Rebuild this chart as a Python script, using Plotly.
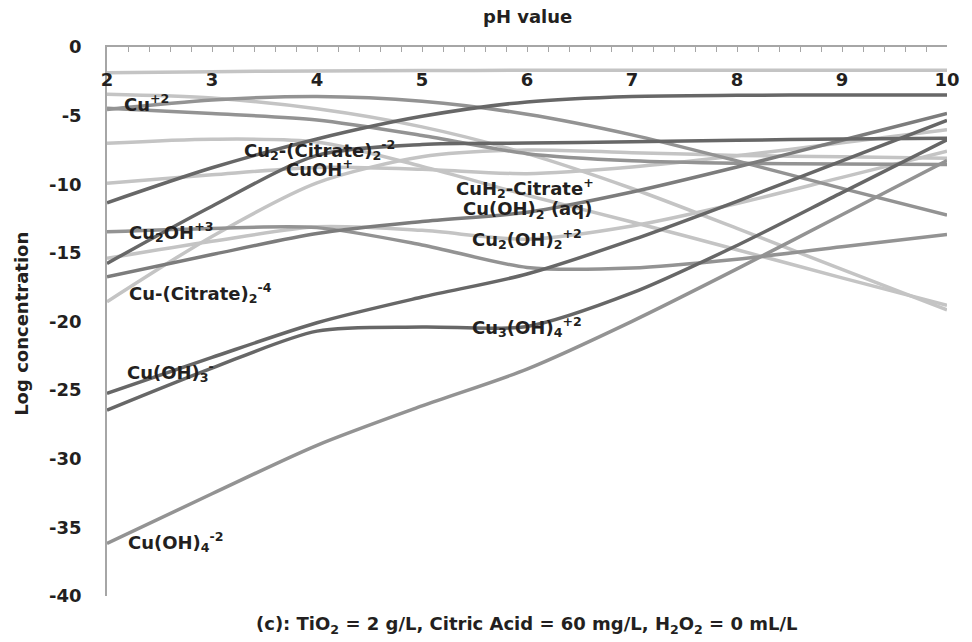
import plotly.graph_objects as go

# pH grid (x) and log-concentration curves (y) for each species
ph = [2, 3, 4, 5, 6, 7, 8, 9, 10]

unlabeled_top = [-1.87, -1.80, -1.74, -1.71, -1.70, -1.70, -1.70, -1.70, -1.70]
citrate_3 = [-11.35, -8.8, -6.7, -5.05, -4.0, -3.6, -3.52, -3.5, -3.5]
h2_citrate = [-4.55, -3.87, -3.6, -3.95, -4.9, -6.4, -8.3, -10.3, -12.25]
h3_citrate = [-3.45, -3.72, -4.5, -5.82, -7.77, -10.31, -13.22, -16.21, -19.15]
cuh2_citrate = [-7.02, -6.72, -6.92, -8.7, -10.8, -12.75, -14.77, -16.82, -18.82]
cu_2 = [-4.47, -4.85, -5.32, -6.45, -7.77, -8.29, -8.47, -8.52, -8.57]
cuoh = [-9.93, -9.31, -8.78, -8.91, -9.23, -8.75, -7.93, -6.98, -6.03]
cu2oh_3 = [-13.46, -13.22, -13.16, -14.42, -16.06, -16.1, -15.46, -14.56, -13.66]
cu2_oh2 = [-15.4, -14.16, -13.1, -13.36, -14.0, -13.04, -11.4, -9.5, -7.6]
cu2_cit2 = [-15.77, -11.6, -7.9, -7.1, -7.0, -6.9, -6.8, -6.7, -6.65]
cu_cit2 = [-18.56, -13.8, -9.9, -8.0, -7.5, -7.7, -7.9, -8.0, -8.1]
cu_oh2_aq = [-16.74, -15.12, -13.59, -12.72, -12.04, -10.56, -8.74, -6.79, -4.84]
cu_oh3 = [-25.24, -22.62, -20.09, -18.22, -16.54, -14.06, -11.24, -8.29, -5.34]
cu3_oh4 = [-26.46, -23.4, -20.7, -20.4, -20.36, -17.92, -14.46, -10.61, -6.76]
cu_oh4 = [-36.17, -32.55, -29.02, -26.15, -23.47, -19.99, -16.17, -12.22, -8.27]

LIGHT = "#c4c4c4"
GRAY = "#939393"
MID = "#7c7c7c"
DARK = "#676767"

series = [
    ("Unlabeled", unlabeled_top, LIGHT),
    ("CuOH+", cuoh, LIGHT),
    ("CuH2-Citrate+", cuh2_citrate, LIGHT),
    ("Cu2(OH)2+2", cu2_oh2, LIGHT),
    ("Cu-(Citrate)2-4", cu_cit2, LIGHT),
    ("H3-Citrate (aq)", h3_citrate, LIGHT),
    ("Cu2OH+3", cu2oh_3, GRAY),
    ("Cu(OH)4-2", cu_oh4, GRAY),
    ("Cu+2", cu_2, GRAY),
    ("H2-Citrate-", h2_citrate, GRAY),
    ("Cu(OH)2 (aq)", cu_oh2_aq, MID),
    ("Cu2-(Citrate)2-2", cu2_cit2, DARK),
    ("Cu(OH)3-", cu_oh3, DARK),
    ("Cu3(OH)4+2", cu3_oh4, DARK),
    ("Citrate-3", citrate_3, DARK),
]

# Text labels: (text, pH, log conc, x anchor)
labels = [
    ("Cu<sup>+2</sup>", 2.14, -4.1, "left"),
    ("Cu<sub>2</sub>-(Citrate)<sub>2</sub><sup>-2</sup>", 3.29, -7.5, "left"),
    ("CuOH<sup>+</sup>", 3.69, -8.8, "left"),
    ("Cu<sub>2</sub>OH<sup>+3</sup>", 2.19, -13.5, "left"),
    ("Cu-(Citrate)<sub>2</sub><sup>-4</sup>", 2.19, -17.9, "left"),
    ("Cu(OH)<sub>3</sub><sup>-</sup>", 2.17, -23.7, "left"),
    ("Cu(OH)<sub>4</sub><sup>-2</sup>", 2.18, -36.1, "left"),
    ("CuH<sub>2</sub>-Citrate<sup>+</sup>", 5.98, -10.3, "center"),
    ("Cu(OH)<sub>2</sub> (aq)", 6.0, -11.9, "center"),
    ("Cu<sub>2</sub>(OH)<sub>2</sub><sup>+2</sup>", 6.0, -14.0, "center"),
    ("Cu<sub>3</sub>(OH)<sub>4</sub><sup>+2</sup>", 6.0, -20.4, "center"),
    ("Citrate<sup>-3</sup>", 10.17, -3.85, "right"),
    ("H<sub>2</sub>-Citrate<sup>-</sup>", 10.19, -12.6, "right"),
    ("H<sub>3</sub>-Citrate (aq)", 10.17, -19.4, "right"),
]

y_tick_vals = [0, -5, -10, -15, -20, -25, -30, -35, -40]
y_tick_text = ["0", "-5", "-10", "-15", "-20", "-25", "-30", "-35", "-40"]

FONT = "'DejaVu Sans', sans-serif"
TEXT = "#231f20"
SIZE = 18


def bold_font(size=SIZE):
    return dict(family=FONT, size=size, color=TEXT, weight="bold")


fig = go.Figure()
for name, vals, color in series:
    fig.add_trace(go.Scatter(
        x=ph, y=vals, mode="lines", name=name, showlegend=False,
        line=dict(color=color, width=3.5, shape="spline", smoothing=0.8),
        hoverinfo="skip",
    ))

for text, x, y, anchor in labels:
    fig.add_annotation(
        x=x, y=y, text=text, showarrow=False, xanchor=anchor, yanchor="middle",
        font=bold_font(),
    )

fig.add_annotation(
    xref="paper", yref="paper", x=0.5, y=1.055, text="pH value", showarrow=False,
    xanchor="center", yanchor="middle", font=bold_font(),
)
fig.add_annotation(
    xref="paper", yref="paper", x=0.5, y=-0.053,
    text="(c): TiO<sub>2</sub> = 2 g/L, Citric Acid = 60 mg/L, H<sub>2</sub>O<sub>2</sub> = 0 mL/L",
    showarrow=False, xanchor="center", yanchor="middle", font=bold_font(),
)
fig.add_annotation(
    xref="paper", yref="paper", x=-0.101, y=0.496, text="Log concentration",
    showarrow=False, textangle=-90, xanchor="center", yanchor="middle",
    font=bold_font(),
)

fig.update_layout(
    width=972, height=642,
    margin=dict(l=107, r=22, t=47, b=46),
    paper_bgcolor="white", plot_bgcolor="white",
    showlegend=False,
)
fig.update_xaxes(
    range=[2, 10], side="top", showgrid=False, zeroline=False,
    showline=True, linecolor="#a6a6a6", linewidth=1.5,
    tickmode="linear", tick0=2, dtick=1,
    ticks="inside", ticklen=5, tickcolor="#a6a6a6", tickwidth=1.2,
    minor=dict(dtick=0.2, ticks="inside", ticklen=5, tickcolor="#a6a6a6", tickwidth=1.2),
    ticklabelposition="inside", ticklabeloverflow="allow", ticklabelstandoff=22,
    tickfont=bold_font(),
)
fig.update_yaxes(
    range=[-40, 0], showgrid=False, zeroline=False,
    showline=True, linecolor="#a6a6a6", linewidth=1.5,
    tickmode="array", tickvals=y_tick_vals, ticktext=y_tick_text,
    ticks="", ticklabelstandoff=20,
    tickfont=bold_font(),
)

fig.write_html("out.html", config={"displayModeBar": False})
